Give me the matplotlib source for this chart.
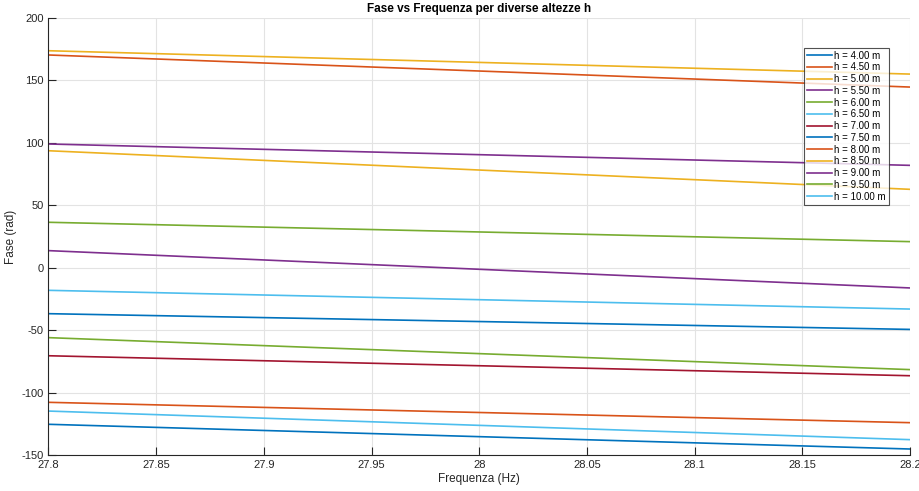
import numpy as np
import matplotlib.pyplot as plt

plt.rcParams['font.family'] = ['Liberation Sans', 'DejaVu Sans']
plt.rcParams['axes.unicode_minus'] = False

# frequency sweep endpoints (Hz)
freq = [27.8, 28.2]

heights = [4.0, 4.5, 5.0, 5.5, 6.0, 6.5, 7.0, 7.5, 8.0, 8.5, 9.0, 9.5, 10.0]

# phase (rad) at the start and end of the sweep, one pair per height
phase_start = [-125.4, 170.4, 173.8, 99.1, 36.4, -18.1, -70.5,
               -36.8, -107.8, 93.7, 13.7, -56.0, -114.8]
phase_end = [-145.2, 144.7, 155.1, 82.0, 20.9, -33.1, -86.5,
             -49.4, -124.1, 62.8, -16.2, -81.6, -137.7]

# default MATLAB line colour order
colors = ['#0072BD', '#D95319', '#EDB120', '#7E2F8E', '#77AC30', '#4DBEEE', '#A2142F']

fig = plt.figure(figsize=(9.2, 4.91), dpi=100)
ax = fig.add_axes([0.0527, 0.0733, 0.9364, 0.89])

for i, h in enumerate(heights):
    ax.plot(freq, [phase_start[i], phase_end[i]], color=colors[i % len(colors)],
            linewidth=1.2, label=f'h = {h:.2f} m')

ax.set_xlim(27.8, 28.2)
ax.set_ylim(-150, 200)
ax.set_xticks(np.arange(27.8, 28.2001, 0.05))
ax.set_xticklabels(['27.8', '27.85', '27.9', '27.95', '28', '28.05', '28.1', '28.15', '28.2'])
ax.set_yticks(np.arange(-150, 201, 50))

ax.grid(True, color='#e3e3e3', linewidth=0.8)
ax.set_axisbelow(True)
for side in ['top', 'right']:
    ax.spines[side].set_visible(False)
for side in ['left', 'bottom']:
    ax.spines[side].set_color('#262626')
    ax.spines[side].set_linewidth(0.8)
ax.tick_params(direction='in', length=5.5, width=0.8, colors='#262626', labelsize=8)

ax.set_title('Fase vs Frequenza per diverse altezze h', fontsize=8.5, fontweight='bold', pad=4)
ax.set_xlabel('Frequenza (Hz)', fontsize=8.5, color='#262626', labelpad=2)
ax.set_ylabel('Fase (rad)', fontsize=8.5, color='#262626')
ax.yaxis.set_label_coords(-0.037, 0.5)

leg = ax.legend(loc='upper right', bbox_to_anchor=(0.9756, 0.932), fontsize=7,
                frameon=True, fancybox=False, handlelength=2.6, handletextpad=0.2,
                labelspacing=0.18, borderpad=0.3, borderaxespad=0)
leg.get_frame().set_edgecolor('#262626')
leg.get_frame().set_linewidth(0.8)

fig.savefig('out.png', dpi=100)
